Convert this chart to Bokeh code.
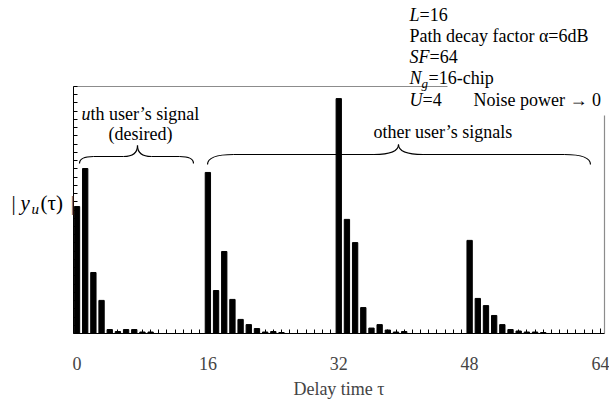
from bokeh.plotting import figure
from bokeh.models import Range1d, FixedTicker, Label
from bokeh.embed import file_html
from bokeh.resources import INLINE

# ---- data ----
tau = list(range(64))
group0 = [0.514, 0.668, 0.247, 0.134, 0.016, 0.008, 0.016, 0.016, 0.006, 0.006, 0, 0, 0, 0, 0, 0]
group1 = [0.652, 0.174, 0.332, 0.138, 0.057, 0.036, 0.020, 0.006, 0.008, 0.004, 0, 0, 0, 0, 0, 0]
group2 = [0.951, 0.462, 0.368, 0.105, 0.022, 0.036, 0.014, 0.006, 0.008, 0, 0, 0, 0, 0, 0, 0]
group3 = [0.377, 0.142, 0.113, 0.073, 0.036, 0.016, 0.010, 0.006, 0.006, 0.004, 0, 0, 0, 0, 0, 0]
amp = group0 + group1 + group2 + group3
x_ticks = [0, 16, 32, 48, 64]

FONT = "Liberation Serif"
FS = "18px"
W, H = 609, 399

# plotting box (pixels) and its data extent
BL, BR, BT, BB = 73, 604, 86, 333
XA, XB = -0.43, 64.49
YA, YB = 0.0, 1.0
SX = (BR - BL) / (XB - XA)
SY = (BB - BT) / (YB - YA)

# frame spans the whole canvas so that texts around the box are not clipped
p = figure(width=W, height=H, output_backend="svg", toolbar_location=None,
           x_range=Range1d(XA - BL / SX, XB + (W - BR) / SX),
           y_range=Range1d(YA - (H - BB) / SY, YB + BT / SY),
           min_border=0, min_border_left=0, min_border_right=0,
           min_border_top=0, min_border_bottom=0)
p.outline_line_color = None
p.grid.visible = False
p.background_fill_color = "white"
p.border_fill_color = "white"

p.vbar(x=tau, top=amp, width=0.65, color="black")

# axes (placed at the box edges)
xa = p.xaxis[0]
xa.fixed_location = YA
xa.bounds = (XA, XB)
xa.ticker = FixedTicker(ticks=x_ticks, minor_ticks=list(range(0, 65)))
xa.major_tick_in = 5
xa.major_tick_out = 0
xa.minor_tick_in = 4
xa.minor_tick_out = 0
xa.axis_line_color = "black"
xa.major_label_text_font = FONT
xa.major_label_text_font_size = FS
xa.major_label_standoff = 23
xa.axis_label = "Delay time \u03c4"
xa.axis_label_text_font = FONT
xa.axis_label_text_font_size = FS
xa.axis_label_text_font_style = "normal"
xa.axis_label_standoff = 6

ya = p.yaxis[0]
ya.fixed_location = XA
ya.bounds = (YA, YB)
ya.ticker = FixedTicker(ticks=[], minor_ticks=[k / 30 for k in range(31)])
ya.major_tick_in = 5
ya.major_tick_out = 0
ya.minor_tick_in = 4
ya.minor_tick_out = 0
ya.axis_line_color = "black"

# helpers to place decorations by canvas pixel
def X(px):
    return XA + (px - BL) / SX

def Y(py):
    return YA + (BB - py) / SY

# partial top/right borders (grey)
p.segment(x0=[XA, XB], y0=[YB, YA], x1=[X(447), XB], y1=[YB, Y(115)], line_color="#8c8c8c", line_width=1.2)

# braces
def brace(xl, xt, xr, ye, yh, ytip, r_end, r_tip):
    p.quadratic(x0=[xl, xt - r_tip, xt, xr - r_end],
                y0=[ye, yh, ytip, yh],
                x1=[xl + r_end, xt, xt + r_tip, xr],
                y1=[yh, ytip, yh, ye],
                cx=[xl, xt, xt, xr],
                cy=[yh, yh, yh, yh], line_color="black", line_width=1.2)
    p.segment(x0=[xl + r_end, xt + r_tip], y0=[yh, yh], x1=[xt - r_tip, xr - r_end], y1=[yh, yh],
              line_color="black", line_width=1.2)

brace(X(79), X(137), X(193), Y(163), Y(156), Y(145), 1.7, 1.7)
brace(X(207), X(398), X(590), Y(164), Y(154), Y(144), 3.2, 3.0)

def lab(px, py, text, style="normal", size=FS, align="left", color="black"):
    p.add_layout(Label(x=px, y=H - py, x_units="screen", y_units="screen",
                       text=text, text_font=FONT, text_font_size=size,
                       text_font_style=style, text_align=align, text_baseline="middle",
                       text_color=color))

# annotations
lab(81, 113, "u", "italic")
lab(90, 113, "th user\u2019s signal")
lab(140, 133, "(desired)", align="center")
lab(373, 131, "other user\u2019s signals")

# parameter box
lab(409, 14, "L", "italic")
lab(419, 14, "=16")
lab(409, 35, "Path decay factor \u03b1=6dB")
lab(409, 56, "SF", "italic")
lab(429, 56, "=64")
lab(409, 77, "N", "italic")
lab(421, 83, "g", "italic", size="13px")
lab(428, 77, "=16-chip")
lab(409, 99, "U", "italic")
lab(422, 99, "=4")
lab(473, 99, "Noise power \u2192 0")

# y label |y_u(tau)|
lab(11, 202, "|", size="21px")
lab(20, 202, "y", "italic", size="21px")
lab(31, 208, "u", "italic", size="15px")
lab(40, 202, "(\u03c4)", size="21px")
lab(70, 202, "|", size="21px", color="#555555")

open("out.html", "w").write(file_html(p, INLINE))
